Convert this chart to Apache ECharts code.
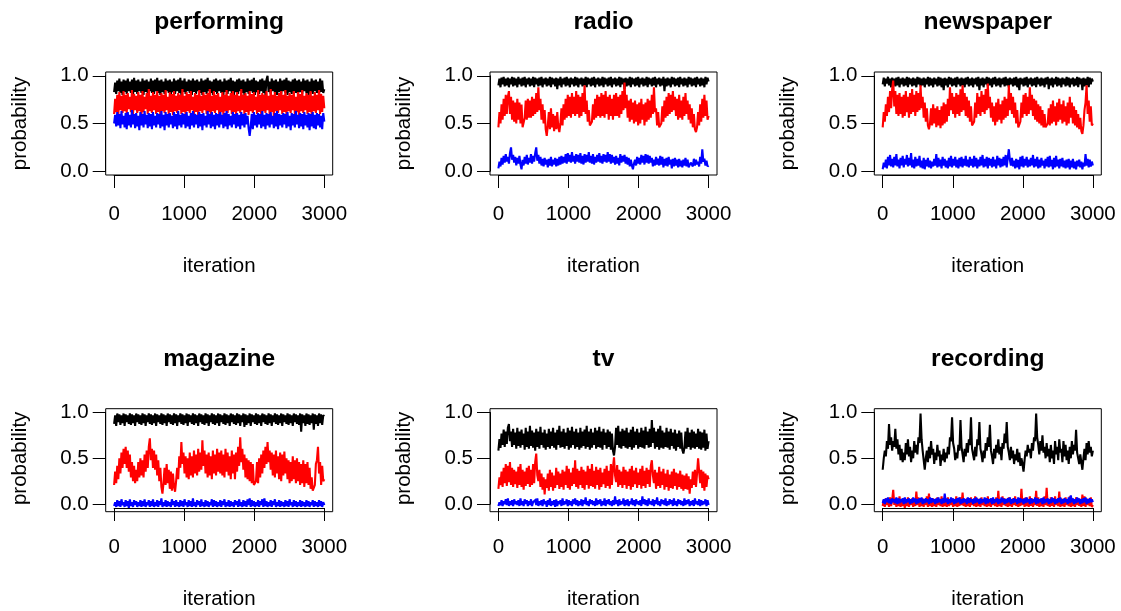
<!DOCTYPE html>
<html>
<head>
<meta charset="utf-8">
<script src="https://cdn.jsdelivr.net/npm/echarts@6/dist/echarts.min.js"></script>
<style>
html,body{margin:0;padding:0;background:#fff;}
#chart{width:1121px;height:611px;}
</style>
</head>
<body>
<div id="chart"></div>
<script>
// ---- data (one value about every 15 iterations) ----
const panelTitles = ['performing','radio','newspaper','magazine','tv','recording'];
const xTicks = [0, 1000, 2000, 3000];
const yTicks = [0.0, 0.5, 1.0];
const lastIteration = 3000;

const performingBlack = [
0.83,0.93,0.81,0.95,0.84,0.97,0.82,0.94,0.80,0.96,0.83,0.95,0.81,0.97,0.84,0.94,0.82,0.96,0.80,0.98,
0.83,0.95,0.81,0.96,0.84,0.94,0.82,0.97,0.80,0.95,0.83,0.96,0.81,0.94,0.84,0.97,0.82,0.95,0.81,0.96,
0.84,0.98,0.82,0.95,0.80,0.96,0.83,0.94,0.81,0.97,0.84,0.95,0.82,0.96,0.80,0.94,0.83,0.97,0.81,0.95,
0.84,0.96,0.82,0.98,0.80,0.95,0.83,0.97,0.81,0.94,0.84,0.96,0.82,0.95,0.80,0.97,0.83,0.95,0.81,0.96,
0.84,0.94,0.82,0.97,0.80,0.95,0.83,0.96,0.81,0.98,0.84,0.95,0.82,0.94,0.80,0.96,0.83,0.97,0.81,0.95,
0.84,0.96,0.82,0.94,0.80,0.97,0.83,0.95,0.81,0.96,0.84,0.98,0.82,0.95,0.80,0.94,0.83,0.96,0.81,0.97,
0.84,0.95,0.82,0.96,0.80,0.94,0.83,0.97,0.81,0.95,0.84,0.96,0.82,0.98,0.80,0.95,0.83,0.94,0.81,0.96,
0.84,0.97,0.82,0.95,0.80,0.96,1.00,0.83,0.94,0.81,0.97,0.84,0.95,0.82,0.96,0.80,0.94,0.83,0.97,0.81,
0.95,0.84,0.96,0.82,0.98,0.80,0.95,0.83,0.94,0.81,0.96,0.84,0.97,0.82,0.95,0.80,0.96,0.83,0.94,0.81,
0.97,0.84,0.95,0.82,0.96,0.80,0.94,0.83,0.97,0.81,0.95,0.84,0.96,0.82,0.94,0.80,0.97,0.83,0.95,0.82,
0.86];
const performingRed = [
0.60,0.76,0.62,0.80,0.59,0.83,0.64,0.79,0.61,0.84,0.63,0.80,0.60,0.82,0.65,0.78,0.62,0.85,0.60,0.81,
0.64,0.79,0.61,0.83,0.63,0.80,0.59,0.84,0.62,0.78,0.65,0.82,0.60,0.86,0.63,0.79,0.61,0.83,0.64,0.80,
0.60,0.84,0.62,0.79,0.58,0.82,0.63,0.80,0.61,0.85,0.64,0.78,0.60,0.83,0.62,0.81,0.59,0.84,0.63,0.79,
0.61,0.82,0.64,0.80,0.60,0.86,0.62,0.79,0.59,0.83,0.63,0.81,0.61,0.84,0.64,0.78,0.60,0.82,0.62,0.80,
0.58,0.85,0.63,0.79,0.61,0.83,0.64,0.80,0.60,0.82,0.62,0.86,0.59,0.79,0.63,0.84,0.61,0.80,0.64,0.82,
0.60,0.78,0.62,0.83,0.59,0.80,0.63,0.85,0.61,0.79,0.64,0.82,0.60,0.84,0.62,0.80,0.58,0.83,0.63,0.79,
0.61,0.86,0.64,0.80,0.60,0.82,0.62,0.79,0.59,0.84,0.63,0.81,0.61,0.83,0.64,0.78,0.60,0.85,0.62,0.80,
0.59,0.82,0.63,0.80,0.61,0.84,0.64,0.79,0.60,0.86,0.62,0.80,0.58,0.83,0.63,0.79,0.61,0.82,0.64,0.84,
0.60,0.80,0.62,0.85,0.59,0.79,0.63,0.82,0.61,0.80,0.64,0.84,0.60,0.78,0.62,0.83,0.59,0.81,0.63,0.85,
0.61,0.79,0.64,0.82,0.60,0.80,0.62,0.84,0.59,0.79,0.63,0.83,0.61,0.80,0.64,0.85,0.60,0.81,0.62,0.79,
0.66];
const performingBlue = [
0.50,0.59,0.47,0.62,0.48,0.60,0.45,0.63,0.49,0.58,0.46,0.61,0.44,0.62,0.48,0.59,0.46,0.64,0.49,0.60,
0.45,0.61,0.47,0.58,0.43,0.62,0.48,0.60,0.46,0.63,0.49,0.59,0.45,0.61,0.47,0.60,0.44,0.62,0.48,0.58,
0.46,0.61,0.49,0.60,0.45,0.63,0.47,0.59,0.43,0.62,0.48,0.60,0.46,0.61,0.49,0.58,0.45,0.62,0.47,0.60,
0.44,0.63,0.48,0.59,0.46,0.61,0.49,0.60,0.45,0.62,0.47,0.58,0.44,0.61,0.48,0.63,0.46,0.60,0.49,0.59,
0.45,0.62,0.47,0.60,0.43,0.61,0.48,0.58,0.46,0.63,0.49,0.60,0.45,0.62,0.47,0.59,0.44,0.61,0.48,0.60,
0.46,0.62,0.49,0.59,0.45,0.61,0.47,0.63,0.44,0.60,0.48,0.58,0.46,0.62,0.49,0.60,0.45,0.61,0.47,0.59,
0.44,0.62,0.48,0.60,0.46,0.61,0.49,0.58,0.45,0.37,0.47,0.60,0.44,0.62,0.48,0.59,0.46,0.61,0.49,0.60,
0.45,0.63,0.47,0.59,0.44,0.61,0.48,0.60,0.46,0.62,0.49,0.58,0.45,0.61,0.47,0.63,0.44,0.60,0.48,0.59,
0.46,0.61,0.49,0.60,0.45,0.62,0.47,0.58,0.43,0.61,0.48,0.60,0.46,0.63,0.49,0.59,0.45,0.61,0.47,0.60,
0.44,0.62,0.48,0.59,0.46,0.61,0.43,0.60,0.47,0.62,0.45,0.59,0.44,0.61,0.48,0.60,0.46,0.58,0.44,0.61,
0.52];

const radioBlack = [
0.90,0.97,0.88,0.98,0.91,0.99,0.89,0.97,0.90,0.98,0.88,0.97,0.91,0.99,0.89,0.98,0.90,0.97,0.88,0.99,
0.91,0.97,0.89,0.98,0.90,0.99,0.88,0.97,0.91,0.98,0.89,0.97,0.90,0.99,0.88,0.98,0.91,0.97,0.89,0.98,
0.90,0.99,0.88,0.97,0.91,0.98,0.89,0.97,0.90,0.99,0.88,0.98,0.91,0.97,0.89,0.98,0.86,0.97,0.90,0.99,
0.88,0.97,0.91,0.98,0.89,0.99,0.90,0.97,0.88,0.98,0.91,0.97,0.89,0.99,0.90,0.98,0.88,0.97,0.91,0.98,
0.89,0.97,0.90,0.99,0.88,0.98,0.91,0.97,0.89,0.98,0.90,0.99,0.88,0.97,0.91,0.98,0.89,0.97,0.90,0.99,
0.88,0.98,0.91,0.97,0.89,0.98,0.90,0.99,0.88,0.97,0.91,0.98,0.89,0.97,0.90,0.99,0.88,0.98,0.91,0.97,
0.86,0.98,0.89,0.97,0.90,0.99,0.88,0.98,0.91,0.97,0.89,0.98,0.90,0.99,0.88,0.97,0.91,0.98,0.89,0.97,
0.90,0.99,0.88,0.98,0.91,0.97,0.89,0.98,0.90,0.99,0.88,0.97,0.91,0.98,0.89,0.97,0.90,0.99,0.84,0.97,
0.89,0.98,0.90,0.97,0.88,0.99,0.91,0.98,0.89,0.97,0.90,0.98,0.88,0.99,0.91,0.97,0.89,0.98,0.90,0.97,
0.88,0.99,0.91,0.98,0.89,0.97,0.90,0.98,0.88,0.99,0.91,0.97,0.89,0.98,0.90,0.97,0.88,0.99,0.91,0.98,
0.94];
const radioRed = [
0.46,0.62,0.50,0.70,0.54,0.76,0.58,0.80,0.60,0.78,0.84,0.60,0.78,0.54,0.74,0.52,0.72,0.50,0.76,0.54,
0.72,0.50,0.70,0.46,0.44,0.56,0.74,0.54,0.76,0.56,0.74,0.56,0.78,0.58,0.76,0.60,0.82,0.62,0.88,0.64,
0.76,0.54,0.70,0.50,0.64,0.44,0.37,0.48,0.62,0.44,0.66,0.46,0.60,0.42,0.58,0.44,0.62,0.46,0.41,0.50,
0.66,0.48,0.70,0.54,0.76,0.56,0.80,0.58,0.78,0.56,0.82,0.60,0.78,0.58,0.84,0.60,0.80,0.56,0.78,0.58,
0.82,0.62,0.90,0.60,0.74,0.52,0.64,0.48,0.46,0.52,0.70,0.54,0.76,0.56,0.80,0.58,0.78,0.56,0.82,0.58,
0.80,0.56,0.84,0.60,0.78,0.54,0.80,0.58,0.76,0.54,0.80,0.58,0.82,0.58,0.78,0.56,0.80,0.60,0.84,0.64,
0.93,0.66,0.80,0.56,0.74,0.52,0.76,0.54,0.72,0.50,0.74,0.52,0.70,0.48,0.72,0.50,0.76,0.54,0.70,0.48,
0.72,0.52,0.76,0.54,0.74,0.56,0.80,0.60,0.88,0.62,0.66,0.48,0.62,0.46,0.44,0.50,0.68,0.52,0.74,0.56,
0.78,0.58,0.82,0.60,0.80,0.62,0.84,0.64,0.78,0.58,0.76,0.54,0.80,0.56,0.74,0.54,0.78,0.58,0.82,0.60,
0.74,0.54,0.70,0.50,0.66,0.46,0.60,0.44,0.41,0.46,0.62,0.48,0.70,0.52,0.76,0.56,0.80,0.58,0.74,0.54,
0.58];
const radioBlue = [
0.03,0.10,0.05,0.14,0.07,0.16,0.09,0.18,0.10,0.15,0.08,0.19,0.25,0.12,0.17,0.09,0.15,0.06,0.14,0.08,
0.16,0.07,0.02,0.12,0.06,0.15,0.08,0.17,0.07,0.14,0.09,0.18,0.08,0.16,0.10,0.19,0.25,0.11,0.17,0.08,
0.15,0.06,0.13,0.05,0.14,0.07,0.12,0.04,0.13,0.06,0.15,0.05,0.12,0.07,0.14,0.05,0.13,0.06,0.15,0.07,
0.16,0.08,0.15,0.09,0.18,0.08,0.19,0.10,0.17,0.09,0.20,0.10,0.16,0.08,0.18,0.10,0.17,0.09,0.19,0.08,
0.16,0.07,0.18,0.09,0.17,0.10,0.20,0.09,0.16,0.08,0.18,0.07,0.15,0.09,0.17,0.10,0.19,0.09,0.16,0.08,
0.18,0.10,0.17,0.09,0.20,0.10,0.18,0.08,0.17,0.09,0.15,0.07,0.16,0.08,0.14,0.06,0.18,0.09,0.16,0.10,
0.17,0.08,0.15,0.07,0.14,0.05,0.12,0.06,0.02,0.08,0.12,0.06,0.15,0.08,0.14,0.07,0.17,0.09,0.16,0.07,
0.18,0.09,0.17,0.08,0.16,0.09,0.14,0.05,0.12,0.06,0.15,0.07,0.13,0.06,0.16,0.07,0.15,0.04,0.13,0.06,
0.14,0.05,0.15,0.07,0.12,0.03,0.13,0.05,0.14,0.06,0.12,0.04,0.13,0.05,0.11,0.04,0.12,0.06,0.14,0.05,
0.12,0.04,0.02,0.09,0.11,0.05,0.13,0.06,0.12,0.07,0.10,0.05,0.15,0.08,0.23,0.10,0.13,0.06,0.11,0.05,
0.06];

const newspaperBlack = [
0.91,0.98,0.89,0.97,0.92,0.99,0.90,0.97,0.88,0.98,0.91,0.97,0.89,0.98,0.90,0.99,0.88,0.97,0.91,0.98,
0.89,0.97,0.90,0.99,0.88,0.98,0.91,0.97,0.89,0.98,0.90,0.97,0.88,0.99,0.91,0.98,0.89,0.97,0.90,0.98,
0.88,0.97,0.91,0.99,0.89,0.98,0.90,0.97,0.88,0.98,0.91,0.97,0.89,0.99,0.90,0.98,0.88,0.97,0.85,0.98,
0.90,0.97,0.88,0.99,0.91,0.98,0.89,0.97,0.90,0.98,0.88,0.99,0.91,0.97,0.89,0.98,0.90,0.97,0.88,0.98,
0.91,0.99,0.89,0.97,0.90,0.98,0.88,0.97,0.91,0.98,0.89,0.99,0.85,0.97,0.90,0.98,0.88,0.97,0.91,0.99,
0.89,0.98,0.90,0.97,0.88,0.98,0.91,0.99,0.89,0.97,0.90,0.98,0.88,0.97,0.91,0.98,0.89,0.99,0.90,0.97,
0.88,0.98,0.91,0.97,0.89,0.98,0.90,0.99,0.88,0.97,0.85,0.98,0.91,0.97,0.89,0.98,0.90,0.99,0.88,0.97,
0.91,0.98,0.89,0.97,0.90,0.98,0.88,0.99,0.91,0.97,0.89,0.98,0.90,0.97,0.88,0.98,0.91,0.99,0.86,0.97,
0.90,0.98,0.88,0.97,0.91,0.99,0.89,0.98,0.90,0.97,0.88,0.98,0.91,0.97,0.89,0.99,0.90,0.98,0.88,0.97,
0.91,0.98,0.89,0.97,0.90,0.99,0.88,0.98,0.91,0.97,0.85,0.98,0.89,0.97,0.90,0.99,0.88,0.98,0.91,0.97,
0.94];
const newspaperRed = [
0.46,0.62,0.52,0.70,0.58,0.78,0.62,0.84,0.66,0.86,0.95,0.68,0.84,0.60,0.80,0.58,0.82,0.60,0.78,0.56,
0.80,0.58,0.84,0.62,0.78,0.56,0.82,0.60,0.86,0.62,0.80,0.58,0.84,0.62,0.82,0.64,0.90,0.66,0.78,0.56,
0.72,0.52,0.66,0.48,0.44,0.50,0.66,0.48,0.70,0.50,0.66,0.46,0.68,0.48,0.64,0.45,0.68,0.48,0.72,0.50,
0.70,0.52,0.76,0.58,0.88,0.64,0.82,0.60,0.78,0.56,0.82,0.60,0.80,0.58,0.86,0.62,0.90,0.64,0.82,0.58,
0.78,0.56,0.74,0.52,0.68,0.48,0.46,0.52,0.72,0.56,0.82,0.60,0.78,0.58,0.84,0.62,0.80,0.60,0.86,0.64,
0.92,0.66,0.78,0.56,0.72,0.52,0.68,0.48,0.72,0.52,0.76,0.54,0.70,0.50,0.74,0.54,0.78,0.56,0.76,0.58,
0.90,0.64,0.82,0.60,0.78,0.56,0.72,0.50,0.64,0.46,0.46,0.52,0.72,0.56,0.80,0.60,0.82,0.58,0.78,0.60,
0.88,0.64,0.80,0.58,0.76,0.54,0.74,0.52,0.70,0.50,0.68,0.48,0.64,0.46,0.60,0.46,0.46,0.50,0.66,0.48,
0.70,0.50,0.74,0.52,0.68,0.48,0.72,0.52,0.76,0.54,0.70,0.50,0.74,0.52,0.68,0.48,0.72,0.50,0.78,0.56,
0.72,0.50,0.68,0.48,0.64,0.46,0.60,0.44,0.56,0.42,0.39,0.48,0.64,0.72,0.90,0.60,0.74,0.52,0.68,0.48,
0.50];
const newspaperBlue = [
0.02,0.09,0.04,0.12,0.03,0.15,0.06,0.17,0.05,0.13,0.04,0.15,0.06,0.18,0.05,0.12,0.03,0.14,0.06,0.16,
0.04,0.13,0.07,0.17,0.05,0.14,0.06,0.19,0.04,0.12,0.03,0.15,0.05,0.13,0.06,0.16,0.04,0.11,0.03,0.14,
0.02,0.12,0.05,0.14,0.04,0.11,0.03,0.10,0.05,0.13,0.06,0.18,0.04,0.14,0.05,0.12,0.03,0.15,0.06,0.13,
0.04,0.11,0.03,0.14,0.05,0.16,0.04,0.13,0.06,0.15,0.04,0.12,0.03,0.14,0.05,0.15,0.04,0.13,0.06,0.16,
0.05,0.12,0.04,0.15,0.06,0.13,0.04,0.16,0.05,0.14,0.03,0.12,0.05,0.15,0.06,0.17,0.04,0.13,0.05,0.15,
0.03,0.14,0.06,0.13,0.04,0.15,0.05,0.12,0.03,0.16,0.06,0.14,0.04,0.13,0.05,0.15,0.06,0.17,0.04,0.14,
0.23,0.12,0.06,0.14,0.05,0.11,0.03,0.13,0.04,0.12,0.02,0.15,0.05,0.16,0.04,0.13,0.06,0.15,0.04,0.12,
0.05,0.14,0.06,0.17,0.04,0.13,0.05,0.15,0.03,0.12,0.04,0.14,0.06,0.11,0.03,0.13,0.05,0.15,0.04,0.16,
0.05,0.12,0.02,0.14,0.04,0.16,0.05,0.12,0.03,0.13,0.05,0.14,0.04,0.11,0.03,0.12,0.04,0.13,0.02,0.11,
0.04,0.13,0.03,0.10,0.02,0.11,0.05,0.12,0.04,0.10,0.02,0.09,0.05,0.18,0.06,0.13,0.04,0.12,0.05,0.10,
0.06];

const magazineBlack = [
0.88,0.97,0.86,0.99,0.90,0.98,0.87,0.97,0.89,0.99,0.86,0.98,0.90,0.97,0.88,0.99,0.87,0.98,0.89,0.97,
0.86,0.99,0.90,0.98,0.88,0.97,0.87,0.99,0.89,0.98,0.86,0.97,0.90,0.99,0.88,0.98,0.87,0.97,0.89,0.99,
0.86,0.98,0.90,0.97,0.88,0.99,0.87,0.98,0.89,0.97,0.86,0.99,0.90,0.98,0.88,0.97,0.87,0.99,0.89,0.98,
0.86,0.97,0.90,0.99,0.88,0.98,0.87,0.97,0.89,0.99,0.86,0.98,0.90,0.97,0.88,0.99,0.87,0.98,0.89,0.97,
0.86,0.99,0.90,0.98,0.88,0.97,0.87,0.99,0.89,0.98,0.86,0.97,0.90,0.99,0.88,0.98,0.87,0.97,0.89,0.99,
0.86,0.98,0.90,0.97,0.88,0.99,0.87,0.98,0.89,0.97,0.86,0.99,0.90,0.98,0.88,0.97,0.87,0.99,0.89,0.98,
0.86,0.97,0.90,0.99,0.85,0.98,0.87,0.97,0.89,0.99,0.86,0.98,0.90,0.97,0.88,0.99,0.87,0.98,0.89,0.97,
0.86,0.99,0.90,0.98,0.88,0.97,0.87,0.99,0.89,0.98,0.86,0.97,0.90,0.99,0.88,0.98,0.87,0.97,0.89,0.99,
0.86,0.98,0.90,0.97,0.88,0.99,0.87,0.98,0.89,0.97,0.86,0.99,0.90,0.98,0.88,0.97,0.87,0.99,0.80,0.98,
0.89,0.97,0.86,0.99,0.88,0.98,0.87,0.97,0.89,0.99,0.82,0.98,0.88,0.97,0.86,0.99,0.89,0.98,0.87,0.97,
0.96];
const magazineRed = [
0.24,0.38,0.26,0.44,0.30,0.52,0.36,0.58,0.42,0.62,0.46,0.64,0.42,0.60,0.38,0.56,0.32,0.48,0.28,0.44,
0.26,0.40,0.28,0.48,0.32,0.52,0.34,0.50,0.32,0.56,0.38,0.60,0.42,0.64,0.73,0.50,0.62,0.42,0.60,0.40,
0.56,0.34,0.50,0.28,0.42,0.22,0.15,0.26,0.42,0.24,0.46,0.26,0.40,0.20,0.38,0.18,0.36,0.22,0.17,0.28,
0.42,0.30,0.54,0.42,0.69,0.46,0.58,0.36,0.54,0.32,0.52,0.30,0.58,0.34,0.54,0.32,0.60,0.36,0.56,0.34,
0.62,0.38,0.58,0.40,0.71,0.44,0.60,0.36,0.56,0.32,0.58,0.34,0.54,0.30,0.60,0.36,0.56,0.34,0.62,0.38,
0.58,0.36,0.60,0.34,0.56,0.32,0.62,0.38,0.58,0.34,0.54,0.30,0.60,0.36,0.56,0.30,0.58,0.38,0.64,0.44,
0.74,0.48,0.62,0.40,0.56,0.32,0.52,0.30,0.50,0.28,0.48,0.26,0.46,0.24,0.24,0.28,0.48,0.26,0.52,0.32,
0.56,0.36,0.60,0.42,0.64,0.46,0.69,0.48,0.60,0.40,0.58,0.34,0.56,0.32,0.60,0.36,0.54,0.30,0.58,0.28,
0.56,0.34,0.59,0.36,0.52,0.30,0.50,0.26,0.48,0.28,0.54,0.30,0.50,0.26,0.52,0.28,0.48,0.24,0.46,0.26,
0.50,0.22,0.46,0.26,0.48,0.24,0.42,0.20,0.32,0.18,0.17,0.24,0.46,0.50,0.64,0.36,0.48,0.24,0.44,0.28,
0.30];
const magazineBlue = [
0.02,0.06,0.01,0.08,0.02,0.07,0.01,0.09,0.03,0.06,0.01,0.08,0.02,0.07,0.00,0.09,0.02,0.06,0.01,0.08,
0.03,0.07,0.01,0.06,0.02,0.08,0.01,0.07,0.02,0.09,0.01,0.06,0.03,0.08,0.01,0.07,0.02,0.09,0.01,0.06,
0.02,0.08,0.01,0.07,0.03,0.10,0.01,0.06,0.02,0.08,0.01,0.07,0.02,0.06,0.01,0.09,0.03,0.07,0.01,0.08,
0.02,0.06,0.01,0.08,0.02,0.07,0.01,0.09,0.03,0.06,0.01,0.08,0.02,0.07,0.01,0.10,0.02,0.06,0.01,0.08,
0.03,0.07,0.01,0.09,0.02,0.06,0.01,0.08,0.02,0.07,0.01,0.06,0.03,0.09,0.01,0.08,0.02,0.07,0.01,0.06,
0.02,0.08,0.01,0.07,0.03,0.09,0.01,0.06,0.02,0.08,0.01,0.07,0.02,0.06,0.01,0.08,0.03,0.07,0.01,0.09,
0.02,0.06,0.01,0.08,0.02,0.07,0.01,0.09,0.03,0.10,0.01,0.08,0.02,0.07,0.01,0.06,0.02,0.08,0.01,0.07,
0.03,0.09,0.01,0.10,0.02,0.07,0.01,0.06,0.02,0.08,0.01,0.07,0.03,0.09,0.01,0.06,0.02,0.08,0.01,0.07,
0.02,0.06,0.01,0.08,0.02,0.07,0.01,0.09,0.03,0.06,0.01,0.08,0.02,0.07,0.01,0.06,0.02,0.08,0.01,0.07,
0.02,0.06,0.01,0.08,0.02,0.07,0.01,0.06,0.03,0.08,0.01,0.07,0.02,0.06,0.01,0.08,0.02,0.07,0.01,0.06,
0.03];

const tvBlack = [
0.60,0.72,0.63,0.78,0.66,0.82,0.64,0.80,0.67,0.84,0.88,0.70,0.80,0.64,0.83,0.66,0.79,0.62,0.84,0.65,
0.80,0.63,0.82,0.66,0.78,0.61,0.84,0.64,0.80,0.62,0.86,0.65,0.81,0.63,0.79,0.60,0.83,0.64,0.80,0.62,
0.85,0.66,0.79,0.63,0.82,0.61,0.78,0.64,0.83,0.62,0.80,0.65,0.84,0.63,0.79,0.61,0.82,0.66,0.86,0.63,
0.80,0.64,0.83,0.62,0.79,0.65,0.84,0.61,0.81,0.63,0.85,0.66,0.80,0.62,0.83,0.64,0.79,0.61,0.84,0.63,
0.80,0.65,0.82,0.62,0.86,0.64,0.80,0.61,0.83,0.63,0.79,0.66,0.84,0.62,0.81,0.64,0.85,0.63,0.80,0.61,
0.83,0.66,0.79,0.62,0.82,0.64,0.80,0.61,0.78,0.60,0.55,0.64,0.84,0.66,0.86,0.63,0.80,0.62,0.83,0.65,
0.81,0.63,0.84,0.62,0.79,0.64,0.82,0.61,0.85,0.63,0.80,0.66,0.83,0.62,0.79,0.64,0.84,0.63,0.81,0.62,
0.85,0.66,0.80,0.63,0.83,0.64,0.92,0.68,0.84,0.62,0.80,0.64,0.83,0.61,0.86,0.63,0.81,0.62,0.79,0.64,
0.84,0.63,0.80,0.61,0.83,0.65,0.79,0.62,0.82,0.60,0.78,0.64,0.81,0.62,0.79,0.61,0.57,0.63,0.80,0.62,
0.84,0.64,0.79,0.61,0.82,0.63,0.80,0.62,0.78,0.64,0.83,0.62,0.80,0.61,0.79,0.63,0.82,0.60,0.78,0.62,
0.70];
const tvRed = [
0.20,0.32,0.24,0.38,0.22,0.42,0.26,0.46,0.23,0.44,0.27,0.48,0.24,0.42,0.22,0.40,0.25,0.38,0.21,0.43,
0.24,0.46,0.22,0.40,0.19,0.38,0.23,0.42,0.25,0.44,0.22,0.40,0.24,0.46,0.26,0.48,0.57,0.34,0.28,0.40,
0.22,0.36,0.19,0.32,0.14,0.30,0.21,0.36,0.18,0.40,0.22,0.37,0.18,0.34,0.21,0.42,0.24,0.38,0.20,0.36,
0.22,0.40,0.19,0.38,0.24,0.44,0.21,0.41,0.19,0.37,0.23,0.42,0.25,0.50,0.22,0.41,0.20,0.39,0.24,0.43,
0.21,0.40,0.19,0.38,0.24,0.44,0.20,0.41,0.23,0.46,0.22,0.39,0.20,0.43,0.24,0.40,0.19,0.42,0.22,0.37,
0.25,0.41,0.21,0.44,0.23,0.39,0.20,0.46,0.24,0.42,0.53,0.34,0.27,0.45,0.22,0.40,0.24,0.38,0.21,0.43,
0.24,0.40,0.20,0.38,0.23,0.41,0.19,0.44,0.22,0.39,0.25,0.42,0.21,0.37,0.24,0.41,0.20,0.44,0.23,0.39,
0.21,0.42,0.25,0.40,0.22,0.44,0.50,0.34,0.26,0.40,0.20,0.37,0.23,0.43,0.21,0.38,0.24,0.41,0.19,0.36,
0.22,0.40,0.18,0.35,0.21,0.38,0.20,0.41,0.23,0.37,0.19,0.36,0.22,0.39,0.20,0.35,0.18,0.34,0.20,0.36,
0.19,0.33,0.15,0.30,0.21,0.38,0.24,0.40,0.22,0.36,0.52,0.38,0.26,0.40,0.21,0.38,0.18,0.36,0.22,0.34,
0.30];
const tvBlue = [
0.02,0.06,0.03,0.08,0.02,0.07,0.04,0.09,0.03,0.10,0.02,0.07,0.03,0.08,0.02,0.09,0.04,0.07,0.03,0.08,
0.02,0.10,0.03,0.07,0.02,0.09,0.04,0.08,0.02,0.07,0.03,0.09,0.02,0.06,0.04,0.08,0.03,0.10,0.02,0.07,
0.03,0.08,0.02,0.09,0.04,0.07,0.01,0.08,0.03,0.10,0.02,0.07,0.03,0.08,0.01,0.09,0.02,0.07,0.04,0.08,
0.02,0.10,0.03,0.07,0.04,0.09,0.02,0.08,0.03,0.07,0.02,0.09,0.04,0.10,0.03,0.08,0.02,0.07,0.03,0.09,
0.02,0.08,0.04,0.11,0.03,0.07,0.02,0.09,0.04,0.08,0.03,0.07,0.02,0.10,0.03,0.08,0.04,0.09,0.02,0.07,
0.03,0.10,0.02,0.08,0.04,0.09,0.03,0.07,0.02,0.08,0.03,0.12,0.04,0.08,0.02,0.09,0.03,0.07,0.04,0.10,
0.02,0.08,0.03,0.09,0.02,0.07,0.04,0.10,0.03,0.08,0.02,0.09,0.04,0.07,0.03,0.08,0.02,0.12,0.04,0.09,
0.03,0.08,0.02,0.10,0.04,0.07,0.03,0.09,0.02,0.08,0.04,0.11,0.03,0.07,0.02,0.09,0.04,0.08,0.03,0.10,
0.02,0.07,0.03,0.09,0.04,0.08,0.02,0.10,0.03,0.07,0.02,0.09,0.04,0.08,0.03,0.07,0.02,0.10,0.03,0.08,
0.04,0.09,0.02,0.07,0.03,0.08,0.02,0.10,0.04,0.07,0.03,0.09,0.02,0.08,0.03,0.07,0.04,0.09,0.02,0.08,
0.03];

const recordingBlack = [
0.40,0.52,0.60,0.54,0.70,0.62,0.88,0.66,0.74,0.60,0.70,0.64,0.83,0.62,0.72,0.56,0.66,0.50,0.62,0.48,
0.58,0.50,0.68,0.56,0.72,0.54,0.64,0.48,0.60,0.52,0.70,0.58,0.66,0.56,0.74,0.68,0.99,0.72,0.60,0.50,
0.40,0.52,0.60,0.48,0.64,0.52,0.70,0.56,0.62,0.46,0.58,0.50,0.66,0.54,0.60,0.44,0.56,0.50,0.62,0.48,
0.58,0.52,0.64,0.56,0.74,0.70,0.95,0.68,0.62,0.50,0.58,0.52,0.66,0.60,0.92,0.64,0.56,0.48,0.62,0.54,
0.68,0.58,0.72,0.66,0.95,0.62,0.56,0.50,0.64,0.54,0.72,0.66,0.90,0.62,0.56,0.48,0.60,0.52,0.68,0.60,
0.74,0.64,0.87,0.60,0.54,0.46,0.62,0.52,0.66,0.58,0.72,0.56,0.64,0.50,0.68,0.62,0.78,0.68,0.90,0.64,
0.58,0.50,0.64,0.52,0.60,0.46,0.56,0.50,0.62,0.48,0.58,0.44,0.52,0.46,0.38,0.50,0.60,0.54,0.66,0.58,
0.62,0.52,0.68,0.60,0.74,0.70,0.99,0.74,0.66,0.56,0.70,0.60,0.76,0.58,0.64,0.52,0.68,0.54,0.62,0.48,
0.66,0.52,0.60,0.46,0.70,0.56,0.64,0.50,0.72,0.58,0.62,0.48,0.70,0.54,0.66,0.50,0.60,0.46,0.64,0.52,
0.70,0.56,0.66,0.60,0.82,0.58,0.52,0.46,0.56,0.48,0.40,0.52,0.62,0.50,0.68,0.56,0.70,0.58,0.64,0.54,
0.60];
const recordingRed = [
0.02,0.08,0.01,0.10,0.03,0.09,0.01,0.11,0.02,0.08,0.19,0.03,0.10,0.01,0.09,0.02,0.12,0.01,0.08,0.02,
0.10,0.00,0.09,0.02,0.11,0.01,0.08,0.03,0.10,0.01,0.09,0.02,0.17,0.03,0.11,0.01,0.08,0.02,0.10,0.01,
0.09,0.03,0.12,0.01,0.15,0.02,0.08,0.01,0.10,0.02,0.09,0.01,0.11,0.03,0.08,0.02,0.12,0.01,0.10,0.02,
0.09,0.01,0.11,0.02,0.08,0.03,0.10,0.01,0.09,0.02,0.12,0.01,0.08,0.02,0.11,0.03,0.16,0.02,0.09,0.01,
0.10,0.02,0.08,0.01,0.11,0.03,0.09,0.02,0.12,0.01,0.10,0.02,0.08,0.01,0.11,0.03,0.09,0.02,0.10,0.01,
0.12,0.02,0.09,0.01,0.10,0.03,0.08,0.02,0.11,0.01,0.18,0.02,0.09,0.01,0.12,0.03,0.10,0.02,0.08,0.01,
0.11,0.02,0.09,0.01,0.10,0.03,0.12,0.02,0.08,0.01,0.09,0.02,0.20,0.03,0.10,0.01,0.11,0.02,0.09,0.01,
0.12,0.02,0.10,0.01,0.08,0.03,0.18,0.02,0.11,0.01,0.09,0.02,0.10,0.01,0.12,0.03,0.21,0.02,0.09,0.01,
0.11,0.02,0.10,0.01,0.12,0.03,0.08,0.02,0.17,0.01,0.10,0.02,0.09,0.01,0.11,0.03,0.08,0.02,0.12,0.01,
0.10,0.02,0.09,0.01,0.11,0.03,0.10,0.02,0.08,0.01,0.14,0.02,0.12,0.01,0.10,0.03,0.09,0.02,0.11,0.01,
0.03];
const recordingBlue = [
0.05,0.09,0.04,0.10,0.06,0.11,0.05,0.09,0.04,0.10,0.06,0.09,0.05,0.11,0.04,0.10,0.05,0.09,0.06,0.10,
0.04,0.11,0.05,0.09,0.06,0.10,0.04,0.09,0.05,0.11,0.06,0.10,0.04,0.09,0.05,0.10,0.06,0.11,0.04,0.09,
0.05,0.10,0.06,0.09,0.04,0.11,0.05,0.10,0.06,0.09,0.04,0.10,0.05,0.11,0.06,0.09,0.04,0.10,0.05,0.15,
0.06,0.10,0.04,0.09,0.05,0.11,0.06,0.10,0.04,0.09,0.05,0.10,0.06,0.11,0.04,0.09,0.05,0.10,0.06,0.09,
0.04,0.11,0.05,0.10,0.06,0.09,0.04,0.10,0.05,0.11,0.06,0.09,0.04,0.10,0.05,0.09,0.06,0.11,0.04,0.10,
0.05,0.09,0.06,0.10,0.04,0.11,0.05,0.09,0.06,0.10,0.04,0.09,0.05,0.11,0.06,0.10,0.04,0.09,0.05,0.10,
0.06,0.11,0.04,0.09,0.05,0.10,0.06,0.09,0.04,0.11,0.05,0.10,0.06,0.09,0.04,0.10,0.05,0.11,0.06,0.09,
0.04,0.10,0.05,0.09,0.06,0.11,0.04,0.10,0.05,0.09,0.06,0.10,0.04,0.11,0.05,0.09,0.06,0.10,0.04,0.09,
0.05,0.11,0.06,0.10,0.04,0.09,0.05,0.10,0.06,0.11,0.04,0.09,0.05,0.10,0.06,0.09,0.04,0.11,0.05,0.13,
0.06,0.10,0.04,0.09,0.05,0.11,0.06,0.10,0.04,0.09,0.05,0.10,0.06,0.11,0.04,0.09,0.05,0.10,0.06,0.09,
0.06];

const traces = [
  [performingBlack, performingRed, performingBlue],
  [radioBlack, radioRed, radioBlue],
  [newspaperBlack, newspaperRed, newspaperBlue],
  [magazineBlack, magazineRed, magazineBlue],
  [tvBlack, tvRed, tvBlue],
  [recordingBlack, recordingRed, recordingBlue]
];
const traceColors = ['#000000', '#ff0000', '#0000ff'];

// ---- layout ----
const FONT = '"Liberation Sans", Arial, Helvetica, sans-serif';
const colLeft = [105.7, 490, 874.3];
const rowTop = [72, 408.7];
const boxW = 227, boxH = 103;
const xMin = -120, xMax = 3120, yMin = -0.04, yMax = 1.04;
const labelSize = 20.5, titleSize = 24.6;

const grid = [], xAxis = [], yAxis = [], series = [], title = [];
panelTitles.forEach((name, p) => {
  const L = colLeft[p % 3], T = rowTop[Math.floor(p / 3)];
  const gBox = grid.length;
  grid.push({left: L, top: T, width: boxW, height: boxH, show: true,
             borderColor: '#000', borderWidth: 1, backgroundColor: 'transparent'});
  xAxis.push({gridIndex: gBox, type: 'value', min: xMin, max: xMax, show: false});
  yAxis.push({gridIndex: gBox, type: 'value', min: yMin, max: yMax, show: false});
  // tick grid spanning exactly the tick range
  const sx = boxW / (xMax - xMin), sy = boxH / (yMax - yMin);
  const tl = L + (xTicks[0] - xMin) * sx;
  const tw = (xTicks[xTicks.length - 1] - xTicks[0]) * sx;
  const tt = T + (yMax - yTicks[yTicks.length - 1]) * sy;
  const th = (yTicks[yTicks.length - 1] - yTicks[0]) * sy;
  const gTick = grid.length;
  grid.push({left: tl, top: tt, width: tw, height: th, show: false});
  const axisStyle = {show: true, onZero: false, lineStyle: {color: '#000', width: 1}};
  xAxis.push({gridIndex: gTick, type: 'value', min: xTicks[0], max: xTicks[xTicks.length - 1],
    interval: 1000, position: 'bottom', offset: (T + boxH) - (tt + th),
    axisLine: axisStyle, axisTick: {show: true, length: 13, lineStyle: {color: '#000', width: 1}},
    splitLine: {show: false},
    axisLabel: {color: '#000', fontFamily: FONT, fontSize: labelSize, margin: 29,
                formatter: v => String(v)},
    name: 'iteration', nameLocation: 'middle', nameGap: 81,
    nameTextStyle: {color: '#000', fontFamily: FONT, fontSize: labelSize}});
  yAxis.push({gridIndex: gTick, type: 'value', min: yTicks[0], max: yTicks[yTicks.length - 1],
    interval: 0.5, position: 'left', offset: tl - L,
    axisLine: axisStyle, axisTick: {show: true, length: 13, lineStyle: {color: '#000', width: 1}},
    splitLine: {show: false},
    axisLabel: {color: '#000', fontFamily: FONT, fontSize: labelSize, margin: 17,
                formatter: v => v.toFixed(1)},
    name: 'probability', nameLocation: 'middle', nameGap: 75,
    nameTextStyle: {color: '#000', fontFamily: FONT, fontSize: labelSize}});
  title.push({text: name, left: L + boxW / 2, top: T - 62, textAlign: 'center', padding: 0,
    textStyle: {color: '#000', fontFamily: FONT, fontSize: titleSize, fontWeight: 'bold'}});
  traces[p].forEach((vals, k) => {
    const step = lastIteration / (vals.length - 1);
    series.push({type: 'line', xAxisIndex: gBox, yAxisIndex: gBox,
      data: vals.map((v, i) => [i * step, v]),
      showSymbol: false, symbol: 'none', silent: true, animation: false, sampling: null,
      lineStyle: {color: traceColors[k], width: 2.1, join: 'miter', miterLimit: 2}, z: 2 + k});
  });
});

const chart = echarts.init(document.getElementById('chart'), null, {renderer: 'canvas'});
chart.setOption({backgroundColor: '#fff', animation: false, title, grid, xAxis, yAxis, series});
</script>
</body>
</html>
